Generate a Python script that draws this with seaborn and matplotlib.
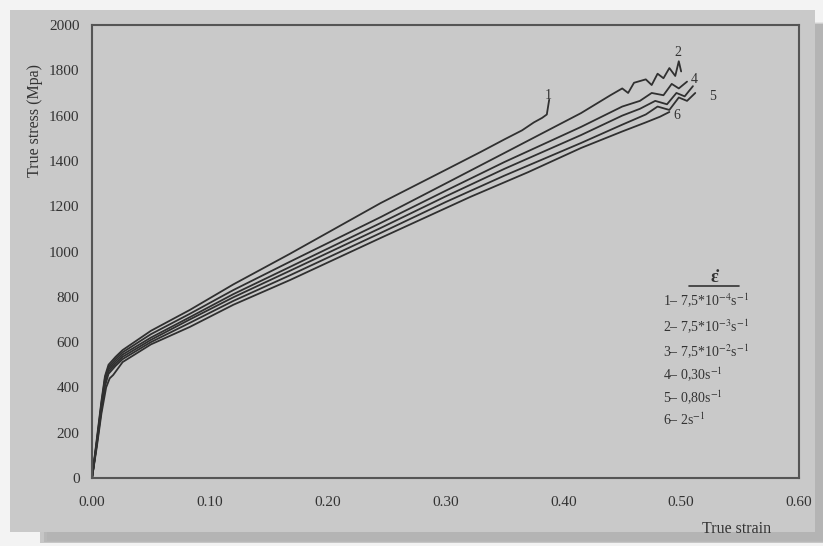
import matplotlib
matplotlib.use("Agg")
import matplotlib.pyplot as plt
import matplotlib.patches as mpatches
import seaborn as sns
import pandas as pd

# ---------------- data ----------------
strain_1 = [0.0, 0.004, 0.008, 0.011, 0.014, 0.020, 0.026, 0.050, 0.083, 0.120, 0.168, 0.245,
            0.300, 0.330, 0.350, 0.365, 0.375, 0.382, 0.386, 0.388]
stress_1 = [0, 170, 340, 450, 500, 535, 565, 650, 742, 855, 990, 1214,
            1360, 1440, 1495, 1535, 1570, 1590, 1605, 1670]

strain_2 = [0.0, 0.004, 0.008, 0.011, 0.014, 0.020, 0.026, 0.050, 0.083, 0.120, 0.168, 0.245,
            0.300, 0.350, 0.415, 0.440, 0.450, 0.455, 0.460, 0.470, 0.475, 0.480, 0.485,
            0.490, 0.495, 0.498, 0.500]
stress_2 = [0, 160, 330, 440, 490, 525, 555, 635, 725, 830, 955, 1152,
            1300, 1435, 1611, 1690, 1720, 1700, 1745, 1760, 1735, 1785, 1765,
            1810, 1775, 1840, 1795]

strain_3 = [0.0, 0.004, 0.008, 0.011, 0.014, 0.020, 0.026, 0.050, 0.083, 0.120, 0.168, 0.245,
            0.300, 0.350, 0.415, 0.450, 0.465, 0.475, 0.485, 0.492, 0.498, 0.505]
stress_3 = [0, 155, 320, 430, 480, 515, 545, 620, 710, 812, 932, 1126,
            1268, 1395, 1550, 1640, 1665, 1700, 1690, 1740, 1720, 1750]

strain_4 = [0.0, 0.004, 0.008, 0.011, 0.014, 0.020, 0.026, 0.050, 0.083, 0.120, 0.168, 0.245,
            0.300, 0.350, 0.415, 0.450, 0.465, 0.478, 0.488, 0.496, 0.503, 0.510]
stress_4 = [0, 150, 310, 420, 470, 505, 535, 610, 700, 798, 915, 1104,
            1243, 1365, 1514, 1600, 1630, 1665, 1650, 1700, 1685, 1730]

strain_5 = [0.0, 0.004, 0.008, 0.011, 0.014, 0.020, 0.026, 0.050, 0.083, 0.120, 0.168, 0.245,
            0.300, 0.350, 0.415, 0.450, 0.470, 0.480, 0.490, 0.498, 0.505, 0.512]
stress_5 = [0, 145, 300, 405, 460, 495, 525, 600, 685, 782, 895, 1082,
            1218, 1335, 1479, 1560, 1605, 1640, 1625, 1680, 1665, 1700]

strain_6 = [0.0, 0.004, 0.008, 0.012, 0.015, 0.018, 0.026, 0.050, 0.083, 0.120, 0.168, 0.245,
            0.321, 0.370, 0.415, 0.450, 0.470, 0.482, 0.490]
stress_6 = [0, 135, 285, 400, 440, 455, 512, 590, 667, 765, 874, 1060,
            1241, 1350, 1457, 1530, 1570, 1595, 1616]

curve_ids = ["1", "2", "3", "4", "5", "6"]
rate_labels = ["1\u2013 7,5*10$^{-4}$s$^{-1}$",
               "2\u2013 7,5*10$^{-3}$s$^{-1}$",
               "3\u2013 7,5*10$^{-2}$s$^{-1}$",
               "4\u2013 0,30s$^{-1}$",
               "5\u2013 0,80s$^{-1}$",
               "6\u2013 2s$^{-1}$"]
end_label_ids = ["1", "2", "4", "5", "6"]
end_label_x = [0.387, 0.497, 0.511, 0.527, 0.496]
end_label_y = [1690, 1880, 1760, 1685, 1600]

x_ticks = [0.0, 0.1, 0.2, 0.3, 0.4, 0.5, 0.6]
x_tick_labels = ["0.00", "0.10", "0.20", "0.30", "0.40", "0.50", "0.60"]
y_ticks = [0, 200, 400, 600, 800, 1000, 1200, 1400, 1600, 1800, 2000]

# ---------------- build long-form table ----------------
frames = []
for cid, xs, ys in zip(curve_ids,
                       [strain_1, strain_2, strain_3, strain_4, strain_5, strain_6],
                       [stress_1, stress_2, stress_3, stress_4, stress_5, stress_6]):
    frames.append(pd.DataFrame({"strain": xs, "stress": ys, "curve": cid}))
df = pd.concat(frames, ignore_index=True)

# ---------------- style ----------------
sns.set_theme(style="white")
plt.rcParams["font.family"] = ["Liberation Serif", "DejaVu Serif"]
plt.rcParams["mathtext.fontset"] = "stix"

panel = "#c9c9c9"
ink = "#333333"

fig = plt.figure(figsize=(8.23, 5.46), dpi=100, facecolor="#f3f3f3")

# shadow + panel (behind the axes)
for i, (a, c) in enumerate([(0.25, "#b8b8b8"), (0.35, "#a8a8a8"), (0.5, "#9a9a9a")]):
    off = 0.004 * (3 - i)
    fig.patches.append(mpatches.Rectangle((0.045 + off, 0.004 + off * 0.5), 0.955 - off, 0.95,
                                          transform=fig.transFigure, facecolor=c,
                                          edgecolor="none", alpha=a, zorder=-20))
fig.patches.append(mpatches.Rectangle((0.012, 0.026), 0.978, 0.956,
                                      transform=fig.transFigure, facecolor=panel,
                                      edgecolor="none", zorder=-10))

ax = fig.add_axes([0.1118, 0.1245, 0.859, 0.8297])
ax.set_zorder(1)
ax.set_facecolor(panel)

palette = {cid: "#303030" for cid in curve_ids}
sns.lineplot(data=df, x="strain", y="stress", hue="curve", palette=palette,
             estimator=None, sort=False, legend=False, linewidth=1.3, ax=ax)

ax.set_xlim(0, 0.6)
ax.set_ylim(0, 2000)
ax.set_xticks(x_ticks)
ax.set_xticklabels(x_tick_labels)
ax.set_yticks(y_ticks)
ax.tick_params(axis="both", direction="in", length=3, width=1, colors="#555555",
               labelcolor=ink, labelsize=11)
ax.tick_params(axis="x", pad=13)
ax.tick_params(axis="y", pad=9)
for s in ax.spines.values():
    s.set_color("#555555")
    s.set_linewidth(1.5)
    s.set_visible(True)

ax.set_xlabel("True strain", fontsize=11.5, color=ink)
ax.xaxis.set_label_coords(0.912, -0.095)
ax.set_ylabel("True stress (Mpa)", fontsize=11.5, color=ink)
ax.yaxis.set_label_coords(-0.069, 0.79)

# curve end labels
for t, xv, yv in zip(end_label_ids, end_label_x, end_label_y):
    ax.text(xv, yv, t, fontsize=10, color=ink, ha="center", va="center")

# strain-rate key
ax.text(0.88, 0.442, "\u03b5\u0307", transform=ax.transAxes, fontsize=13,
        color=ink, ha="center", va="center", fontweight="bold")
ax.plot([0.845, 0.915], [0.423, 0.423], transform=ax.transAxes, color=ink, lw=1.2)
key_y = [0.392, 0.333, 0.278, 0.227, 0.177, 0.128]
for lab, yv in zip(rate_labels, key_y):
    ax.text(0.808, yv, lab, transform=ax.transAxes, fontsize=10, color=ink,
            ha="left", va="center")

fig.savefig("out.png", dpi=100, facecolor=fig.get_facecolor())
